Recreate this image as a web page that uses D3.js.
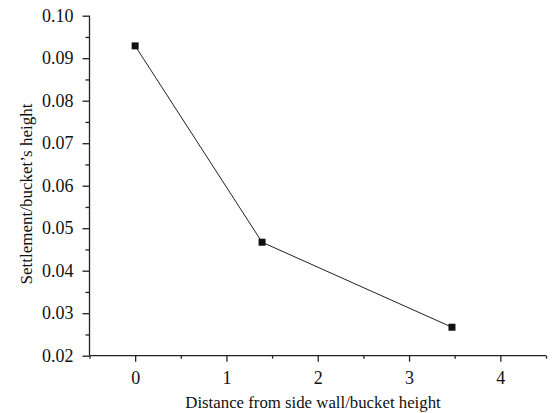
<!DOCTYPE html>
<html><head><meta charset="utf-8">
<script src="https://cdn.jsdelivr.net/npm/d3@7"></script>
<style>body{margin:0;background:#fff}svg{display:block}text{font-family:"Liberation Serif","Times New Roman",serif;fill:#111}</style>
</head><body>
<script>
const xValues = [0, 1.39, 3.47];
const yValues = [0.0929, 0.0467, 0.0267];
const xTicks = [0, 1, 2, 3, 4];
const yTicks = [0.02, 0.03, 0.04, 0.05, 0.06, 0.07, 0.08, 0.09, 0.10];
const xTitle = "Distance from side wall/bucket height";
const yTitle = "Settlement/bucket\u2019s height";

const W = 555, H = 413;
const m = {left: 89.5, right: 9, top: 15.7, bottom: 57.3};
const svg = d3.select("body").append("svg").attr("width", W).attr("height", H);
const x = d3.scaleLinear().domain([-0.5, 4.5]).range([m.left, W - m.right]);
const y = d3.scaleLinear().domain([0.02, 0.10]).range([H - m.bottom, m.top]);
const x0 = y(0.02);

const xMinor = d3.range(-0.5, 4.51, 0.5).filter(v => Math.abs(v - Math.round(v)) > 0.01);
const yMinor = d3.range(0.025, 0.1, 0.01);

const gx = svg.append("g").attr("transform", `translate(0,${x0})`);
gx.call(d3.axisBottom(x).tickValues(xMinor).tickSize(3).tickFormat(""));
gx.call(g => g.selectAll(".domain").remove());
const gx2 = svg.append("g").attr("transform", `translate(0,${x0})`)
  .call(d3.axisBottom(x).tickValues(xTicks).tickSize(6).tickPadding(10).tickFormat(d3.format("d")));

const gy = svg.append("g").attr("transform", `translate(${m.left},0)`);
gy.call(d3.axisLeft(y).tickValues(yMinor).tickSize(4).tickFormat(""));
gy.call(g => g.selectAll(".domain").remove());
const gy2 = svg.append("g").attr("transform", `translate(${m.left},0)`)
  .call(d3.axisLeft(y).tickValues(yTicks).tickSize(7).tickPadding(9).tickFormat(d3.format(".2f")));

svg.selectAll("g").attr("font-size", null).attr("font-family", null);
svg.selectAll(".domain,.tick line").attr("stroke", "#222").attr("stroke-width", 1.3);
gx2.select(".domain").attr("d", `M${x(-0.5)},0H${x(4.5)}`);
gy2.select(".domain").attr("d", `M0,${y(0.10)}V${y(0.02)}`);
svg.selectAll(".tick text").attr("fill", "#111")
  .style("font-family", '"Liberation Serif",serif').style("font-size", "18px");

const pts = xValues.map((v, i) => [v, yValues[i]]);
svg.append("path").datum(pts)
  .attr("d", d3.line().x(d => x(d[0])).y(d => y(d[1])))
  .attr("fill", "none").attr("stroke", "#222").attr("stroke-width", 1);
svg.selectAll("rect.pt").data(pts).join("rect").attr("class", "pt")
  .attr("x", d => x(d[0]) - 3.5).attr("y", d => y(d[1]) - 3.5)
  .attr("width", 7).attr("height", 7).attr("fill", "#111");

svg.append("text").attr("x", 313).attr("y", 408.3)
  .attr("text-anchor", "middle").style("font-size", "16.8px").text(xTitle);
svg.append("text").attr("transform", `translate(32,194) rotate(-90)`)
  .attr("text-anchor", "middle").style("font-size", "17px").text(yTitle);
</script>
</body></html>
